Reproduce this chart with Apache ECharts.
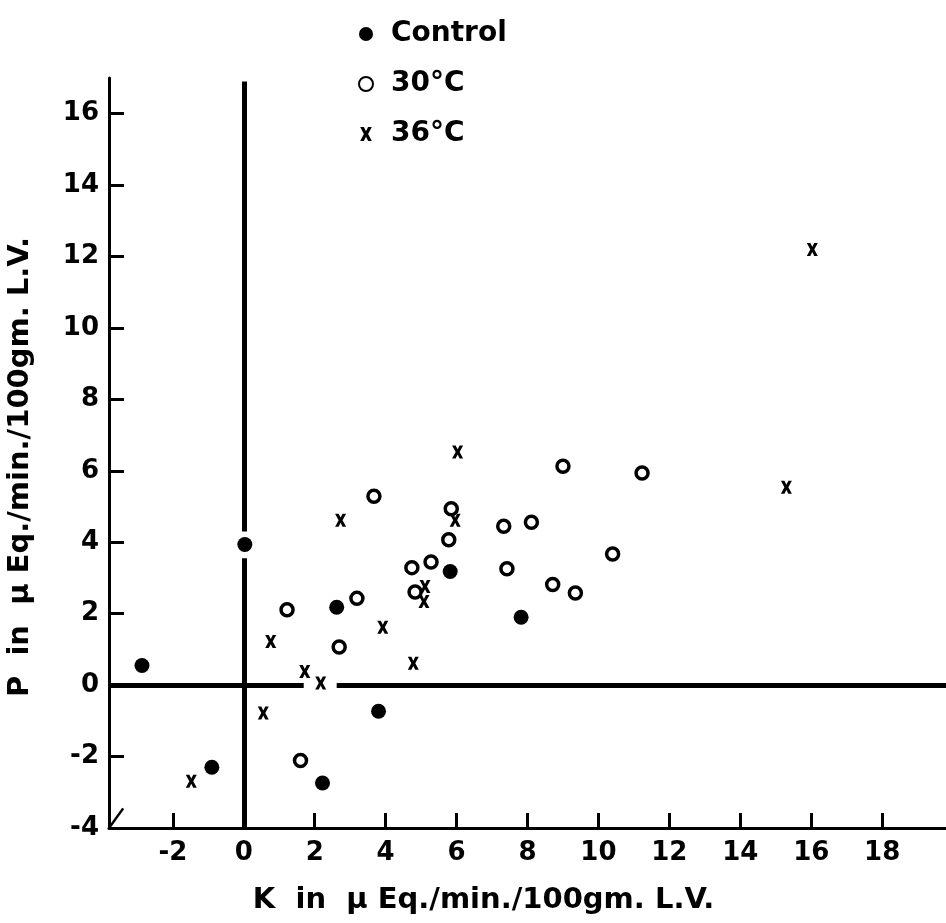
<!DOCTYPE html>
<html><head><meta charset="utf-8">
<script src="https://cdn.jsdelivr.net/npm/echarts@6/dist/echarts.min.js"></script>
<style>html,body{margin:0;padding:0;background:#fff}#c{width:946px;height:923px}</style>
</head><body><div id="c"></div>
<script>
const xTicks = [-2, 0, 2, 4, 6, 8, 10, 12, 14, 16, 18];
const yTicks = [-4, -2, 0, 2, 4, 6, 8, 10, 12, 14, 16];

const controlK = [-2.87, 0.03, -0.90, 2.22, 2.62, 3.80, 5.82, 7.82];
const controlP = [0.55, 3.94, -2.30, -2.74, 2.18, -0.73, 3.18, 1.90];

const c30K = [1.22, 2.69, 3.19, 3.67, 1.60, 4.74, 5.28, 5.78, 5.85, 4.83, 9.00, 11.23, 7.33, 8.11, 7.42, 10.40, 8.71, 9.35];
const c30P = [2.11, 1.07, 2.43, 5.29, -2.11, 3.29, 3.45, 4.07, 4.94, 2.61, 6.13, 5.94, 4.45, 4.56, 3.26, 3.67, 2.82, 2.58];

const c36K = [2.73, 0.76, 1.72, 2.17, 0.55, -1.48, 3.92, 4.78, 6.03, 5.96, 5.11, 5.08, 16.03, 15.30];
const c36P = [4.62, 1.22, 0.38, 0.06, -0.78, -2.69, 1.62, 0.61, 6.53, 4.62, 2.76, 2.34, 12.20, 5.54];

// reference lines K=0 and P=0 (segments as drawn, with small gaps)
const hLineSegs = [[-3.8, 1.69], [2.62, 19.8]];
const vLineSegs = [[-4, 3.55], [4.3, 16.9]];
const cornerMark = [[-3.8, -4], [-3.4, -3.45]];

const zip = (a, b) => a.map((v, i) => [v, b[i]]);
const font = '"DejaVu Sans", sans-serif';
const xSym = 'path://M0,0 L3.2,0 L5,3.6 L6.8,0 L10,0 L6.8,6 L10,12 L6.8,12 L5,8.4 L3.2,12 L0,12 L3.2,6 Z';

const markLines = [];
hLineSegs.forEach(s => markLines.push([{coord: [s[0], 0]}, {coord: [s[1], 0]}]));
vLineSegs.forEach(s => markLines.push([{coord: [0, s[0]]}, {coord: [0, s[1]]}]));
const cornerLines = [[{coord: cornerMark[0]}, {coord: cornerMark[1]}]];

const chart = echarts.init(document.getElementById('c'));
chart.setOption({
  backgroundColor: '#fff',
  animation: false,
  textStyle: {fontFamily: font},
  grid: {left: 109, right: 0, top: 78, bottom: 95, containLabel: false, outerBoundsMode: 'none'},
  legend: {
    orient: 'vertical', left: 353, top: 15, itemGap: 22,
    itemWidth: 40, itemHeight: 14,
    textStyle: {fontFamily: font, fontSize: 28, fontWeight: 'bold', color: '#000'},
    data: ['Control', '30°C', '36°C']
  },
  xAxis: {
    type: 'value', min: -3.8, max: 19.8,
    name: 'K  in  µ Eq./min./100gm. L.V.', nameLocation: 'middle', nameGap: 58,
    nameTextStyle: {fontFamily: font, fontSize: 29, fontWeight: 'bold', color: '#000', padding: [0, 88, 0, 0]},
    axisLine: {show: true, onZero: false, lineStyle: {color: '#000', width: 3}},
    axisTick: {show: true, inside: true, length: 15, customValues: xTicks, lineStyle: {color: '#000', width: 3}},
    axisLabel: {customValues: xTicks, margin: 12, fontFamily: font, fontSize: 26, fontWeight: 'bold', color: '#000'},
    splitLine: {show: false}
  },
  yAxis: {
    type: 'value', min: -4, max: 17,
    name: 'P  in  µ Eq./min./100gm. L.V.', nameLocation: 'middle', nameGap: 74, nameRotate: 90,
    nameTextStyle: {fontFamily: font, fontSize: 29, fontWeight: 'bold', color: '#000', padding: [0, 28, 0, 0]},
    axisLine: {show: true, onZero: false, lineStyle: {color: '#000', width: 3}},
    axisTick: {show: true, inside: true, length: 15, customValues: yTicks, lineStyle: {color: '#000', width: 3}},
    axisLabel: {customValues: yTicks, margin: 10, fontFamily: font, fontSize: 26, fontWeight: 'bold', color: '#000'},
    splitLine: {show: false}
  },
  series: [
    {
      name: 'Control', type: 'scatter', symbol: 'circle', symbolSize: 15,
      itemStyle: {color: '#000', opacity: 1}, data: zip(controlK, controlP), z: 5,
      markLine: {
        silent: true, symbol: 'none', label: {show: false},
        lineStyle: {color: '#000', width: 5, type: 'solid', opacity: 1}, data: markLines
      }
    },
    {
      name: '30°C', type: 'scatter', symbol: 'circle', symbolSize: 12,
      itemStyle: {color: '#fff', borderColor: '#000', borderWidth: 3.5, opacity: 1}, data: zip(c30K, c30P), z: 5,
      markLine: {
        silent: true, symbol: 'none', label: {show: false},
        lineStyle: {color: '#000', width: 2.5, type: 'solid', opacity: 1}, data: cornerLines
      }
    },
    {
      name: '36°C', type: 'scatter', symbol: xSym, symbolSize: [11, 13],
      itemStyle: {color: '#000', opacity: 1}, data: zip(c36K, c36P), z: 6
    }
  ]
});
</script></body></html>
